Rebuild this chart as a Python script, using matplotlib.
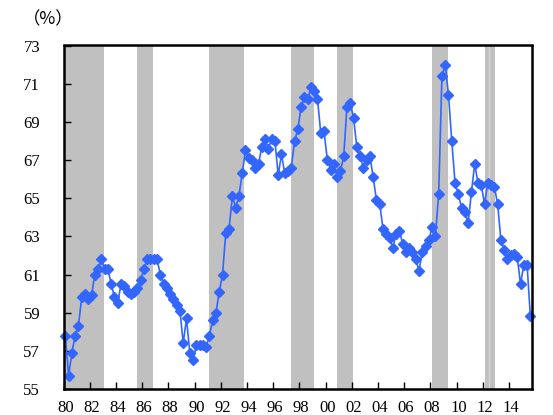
import matplotlib
matplotlib.use("Agg")
import matplotlib.pyplot as plt
import numpy as np

# Quarterly share (%), 1980Q1 - 2015Q3
share_1980s = [
    57.8, 55.7, 56.9, 57.8,   # 1980
    58.3, 59.8, 60.0, 59.7,   # 1981
    59.9, 61.0, 61.3, 61.8,   # 1982
    61.3, 61.3, 60.5, 59.8,   # 1983
    59.5, 60.5, 60.4, 60.1,   # 1984
    60.0, 60.1, 60.3, 60.7,   # 1985
    61.3, 61.8, 61.8, 61.8,   # 1986
    61.8, 61.0, 60.5, 60.3,   # 1987
    60.0, 59.7, 59.4, 59.1,   # 1988
    57.4, 58.7, 56.9, 56.5,   # 1989
]
share_1990s = [
    57.3, 57.3, 57.3, 57.2,   # 1990
    57.8, 58.6, 59.0, 60.1,   # 1991
    61.0, 63.2, 63.4, 65.1,   # 1992
    64.5, 65.1, 66.3, 67.5,   # 1993
    67.1, 67.0, 66.6, 66.8,   # 1994
    67.7, 68.1, 67.6, 68.1,   # 1995
    68.0, 66.2, 67.3, 66.3,   # 1996
    66.4, 66.6, 68.0, 68.6,   # 1997
    69.8, 70.3, 70.2, 70.8,   # 1998
    70.6, 70.2, 68.4, 68.5,   # 1999
]
share_2000s = [
    67.0, 66.5, 66.8, 66.1,   # 2000
    66.4, 67.2, 69.8, 70.0,   # 2001
    69.2, 67.7, 67.2, 66.6,   # 2002
    67.0, 67.2, 66.1, 64.9,   # 2003
    64.7, 63.4, 63.1, 62.9,   # 2004
    62.4, 63.1, 63.3, 62.6,   # 2005
    62.2, 62.4, 62.2, 61.8,   # 2006
    61.2, 62.2, 62.5, 62.8,   # 2007
    63.5, 63.0, 65.2, 71.4,   # 2008
    72.0, 70.4, 68.0, 65.8,   # 2009
]
share_2010s = [
    65.2, 64.5, 64.3, 63.7,   # 2010
    65.3, 66.8, 65.8, 65.7,   # 2011
    64.7, 65.8, 65.7, 65.6,   # 2012
    64.7, 62.8, 62.3, 61.8,   # 2013
    62.0, 62.1, 61.9, 60.5,   # 2014
    61.5, 61.5, 58.8,         # 2015
]
share = share_1980s + share_1990s + share_2000s + share_2010s

# Recession periods, in quarter index units (0 = 1980Q1)
recession_start = [-0.5, 21.8, 43.9, 69.0, 82.9, 111.9, 128.0]
recession_end = [11.9, 26.8, 54.6, 75.8, 87.8, 116.8, 131.2]

year_labels = ["80", "82", "84", "86", "88", "90", "92", "94", "96",
               "98", "00", "02", "04", "06", "08", "10", "12", "14"]
y_ticks = [55, 57, 59, 61, 63, 65, 67, 69, 71, 73]

fig = plt.figure(figsize=(5.53, 4.15), dpi=100)
ax = fig.add_axes([63.7 / 553, (415 - 389) / 415, (532 - 63.7) / 553, (389 - 45.5) / 415])

for s, e in zip(recession_start, recession_end):
    ax.axvspan(s, e, color="#c0c0c0", lw=0, zorder=0)
# seam between the two halves of the last shaded period
ax.axvline(129.3, color="#d6d6d6", lw=1.0, zorder=0.5)

x = np.arange(len(share))
ax.plot(x, share, color="#3366ff", lw=1.2, marker="D", ms=5.2,
        mec="#3366ff", mfc="#3366ff", zorder=3, clip_on=False)

ax.set_xlim(-0.5, len(share) - 0.5)
ax.set_ylim(55, 73)

serif = ["Liberation Serif", "DejaVu Serif"]

# year labels centred on the first quarter; tick marks between years
label_pos = [8 * k for k in range(len(year_labels))]
ax.set_xticks(label_pos)
ax.set_xticklabels(year_labels, fontfamily=serif, fontsize=12)
ax.tick_params(axis="x", which="major", length=0, pad=8)
ax.set_xticks([8 * k - 0.5 for k in range(len(year_labels))], minor=True)
ax.tick_params(axis="x", which="minor", direction="in", length=5, width=1)

ax.set_yticks(y_ticks)
ax.set_yticklabels([str(v) for v in y_ticks], fontfamily=serif, fontsize=12)
ax.tick_params(axis="y", direction="in", length=5, width=1, pad=17)

for sp in ax.spines.values():
    sp.set_linewidth(1.8)
    sp.set_color("black")
    sp.set_zorder(4)

fig.text(48 / 553, 1 - 19 / 415, "（%）", ha="center", va="center",
         fontsize=12.5, family=["Noto Sans CJK JP", "DejaVu Sans"])

fig.savefig("out.png", dpi=100)
